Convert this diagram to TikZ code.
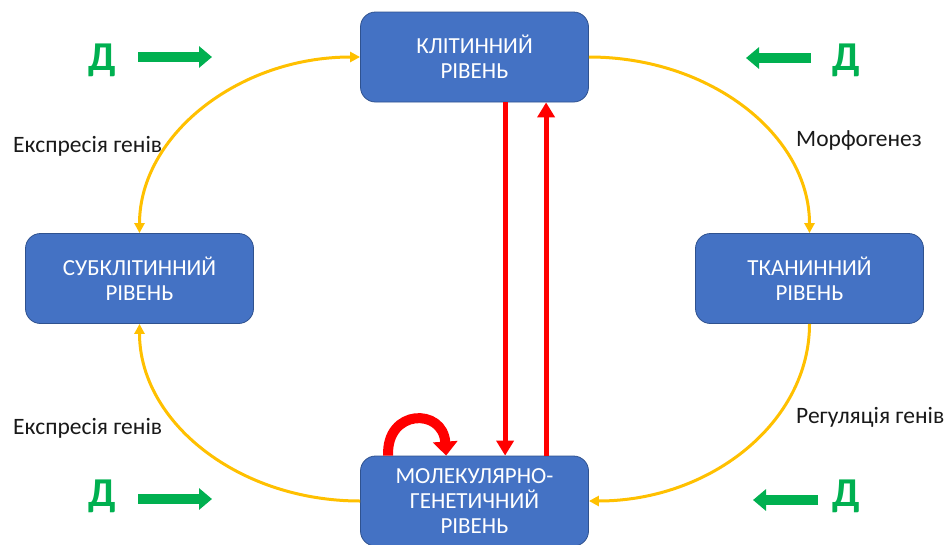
\documentclass[tikz,border=0pt]{standalone}
\usepackage{fontspec}
\setmainfont{Carlito}
\usetikzlibrary{arrows.meta,calc}
\definecolor{boxblue}{HTML}{4472C4}
\definecolor{boxedge}{HTML}{2F528F}
\definecolor{yel}{HTML}{FFC000}
\definecolor{grn}{HTML}{00B050}
\definecolor{rd}{HTML}{FF0000}
\tikzset{
  level/.style={rectangle, rounded corners=15pt, fill=boxblue, draw=boxedge, line width=0.8pt,
    minimum width=228pt, minimum height=90pt, text=white, align=center,
    font=\fontsize{23}{25}\selectfont, inner sep=0pt},
  yarc/.style={draw=yel, line width=3pt},
  ytip/.style={-{Triangle[length=10pt,width=10pt]}},
  redline/.style={draw=rd, line width=5pt, -{Triangle[length=15pt,width=17pt]}},
  redloop/.style={draw=rd, line width=10pt, -{Triangle[length=14pt,width=24pt]}},
  garrow/.style={draw=grn, line width=10pt, -{Triangle[length=13pt,width=21pt]}},
  dletter/.style={text=grn, font=\fontsize{41}{41}\selectfont\bfseries, inner sep=0pt},
  lab/.style={text=black!90, font=\fontsize{23.5}{25}\selectfont, inner sep=0pt, anchor=west}
}
\begin{document}
\begin{tikzpicture}[x=1pt,y=-1pt]
\useasboundingbox (0,0) rectangle (944,544);
% boxes
\node[level] (top) at (474.5,57) {КЛІТИННИЙ\\РІВЕНЬ};
\node[level] (left) at (139.5,278.5) {СУБКЛІТИННИЙ\\РІВЕНЬ};
\node[level] (right) at (809.5,278.5) {ТКАНИННИЙ\\РІВЕНЬ};
\node[level] (bot) at (474.5,501) {МОЛЕКУЛЯРНО-\\ГЕНЕТИЧНИЙ\\РІВЕНЬ};
% yellow arcs
\draw[yarc, {Triangle[length=10pt,width=10pt]}-{Triangle[length=10pt,width=10pt]}]
  (top.west) .. controls +(-122,0) and +(0,-97.5) .. (left.north);
\draw[yarc, ytip] (top.east) .. controls +(122,0) and +(0,-97.5) .. (right.north);
\draw[yarc, ytip] (right.south) .. controls +(0,98) and +(122,0) .. (bot.east);
\draw[yarc, ytip] (bot.west) .. controls +(-122,0) and +(0,98) .. (left.south);
% red arrows
\draw[redline] ([xshift=145pt]top.south west) -- ([xshift=145pt]bot.north west);
\draw[redline] ([xshift=186pt]bot.north west) -- ([xshift=186pt]top.south west);
\draw[redloop] ([xshift=28pt]bot.north west) .. controls +(-2,-47) and +(-3,-48) .. ([xshift=86pt]bot.north west);
% labels
\node[lab] (l1) at (13,146) {Експресія генів};
\node[lab] (l2) at (796,140) {Морфогенез};
\node[lab] (l3) at (13,428) {Експресія генів};
\node[lab] (l4) at (796,417) {Регуляція генів};
% green D's and arrows
\node[dletter] (d1) at (102,60) {Д};
\coordinate (g1a) at (138,57); \coordinate (g1b) at (212,57);
\draw[garrow] (g1a) -- (g1b);
\node[dletter] (d2) at (846,60) {Д};
\coordinate (g2a) at (811,58); \coordinate (g2b) at (746,58);
\draw[garrow] (g2a) -- (g2b);
\node[dletter] (d3) at (102,496) {Д};
\coordinate (g3a) at (138,499); \coordinate (g3b) at (212,499);
\draw[garrow] (g3a) -- (g3b);
\node[dletter] (d4) at (846,496) {Д};
\coordinate (g4a) at (818,500); \coordinate (g4b) at (753,500);
\draw[garrow] (g4a) -- (g4b);
\end{tikzpicture}
\end{document}
